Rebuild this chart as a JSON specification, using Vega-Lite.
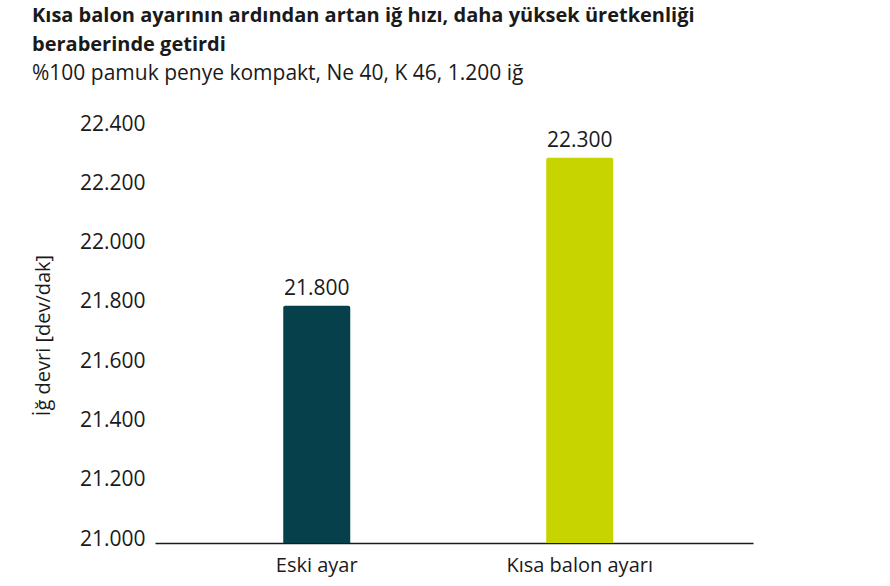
{
  "$schema": "https://vega.github.io/schema/vega-lite/v6.json",
  "width": 598,
  "height": 415,
  "autosize": {"type": "none"},
  "padding": {"left": 155, "top": 128, "right": 137, "bottom": 43},
  "background": "white",
  "title": {
    "text": ["Kısa balon ayarının ardından artan iğ hızı, daha yüksek üretkenliği", "beraberinde getirdi"],
    "subtitle": "%100 pamuk penye kompakt, Ne 40, K 46, 1.200 iğ",
    "anchor": "start",
    "frame": "group",
    "dx": -123,
    "offset": 29,
    "font": "Open Sans",
    "fontSize": 20,
    "fontWeight": "bold",
    "lineHeight": 29,
    "color": "#1a1a1a",
    "subtitleFont": "Open Sans",
    "subtitleFontSize": 21,
    "subtitleColor": "#1a1a1a",
    "subtitleLineHeight": 26,
    "subtitlePadding": 8
  },
  "config": {
    "locale": {
      "number": {"decimal": ",", "thousands": ".", "grouping": [3], "currency": ["", " TL"]}
    },
    "view": {"stroke": null},
    "font": "Open Sans"
  },
  "data": {
    "values": [
      {"ayar": "Eski ayar", "devir": 21800},
      {"ayar": "Kısa balon ayarı", "devir": 22300}
    ]
  },
  "encoding": {
    "x": {
      "field": "ayar",
      "type": "nominal",
      "sort": null,
      "scale": {"paddingInner": 0, "paddingOuter": 0.137, "align": 0.42},
      "axis": {
        "title": null,
        "labelAngle": 0,
        "labelFontSize": 20,
        "labelColor": "#1a1a1a",
        "labelPadding": 12,
        "ticks": false,
        "domainColor": "#1a1a1a",
        "domainWidth": 1.5
      }
    },
    "y": {
      "field": "devir",
      "type": "quantitative",
      "scale": {"domain": [21000, 22400], "zero": false, "nice": false},
      "axis": {
        "title": "İğ devri [dev/dak]",
        "titleFontSize": 20,
        "titleFontWeight": "normal",
        "titleColor": "#1a1a1a",
        "titleX": -112,
        "titleY": 207,
        "titleAngle": -90,
        "titleAlign": "center",
        "titleBaseline": "middle",
        "values": [21000, 21200, 21400, 21600, 21800, 22000, 22200, 22400],
        "format": ",.0f",
        "labelFontSize": 21,
        "labelColor": "#1a1a1a",
        "labelPadding": 10,
        "labelOffset": -4,
        "ticks": false,
        "domain": false,
        "grid": false
      }
    }
  },
  "layer": [
    {
      "mark": {"type": "bar", "size": 67, "cornerRadiusTopLeft": 2, "cornerRadiusTopRight": 2},
      "encoding": {
        "y2": {"datum": 21000},
        "color": {
          "field": "ayar",
          "type": "nominal",
          "scale": {"domain": ["Eski ayar", "Kısa balon ayarı"], "range": ["#05404b", "#c8d400"]},
          "legend": null
        }
      }
    },
    {
      "mark": {"type": "text", "baseline": "bottom", "dy": -7, "fontSize": 21, "color": "#1a1a1a"},
      "encoding": {
        "text": {"field": "devir", "type": "quantitative", "format": ",.0f"}
      }
    }
  ]
}
